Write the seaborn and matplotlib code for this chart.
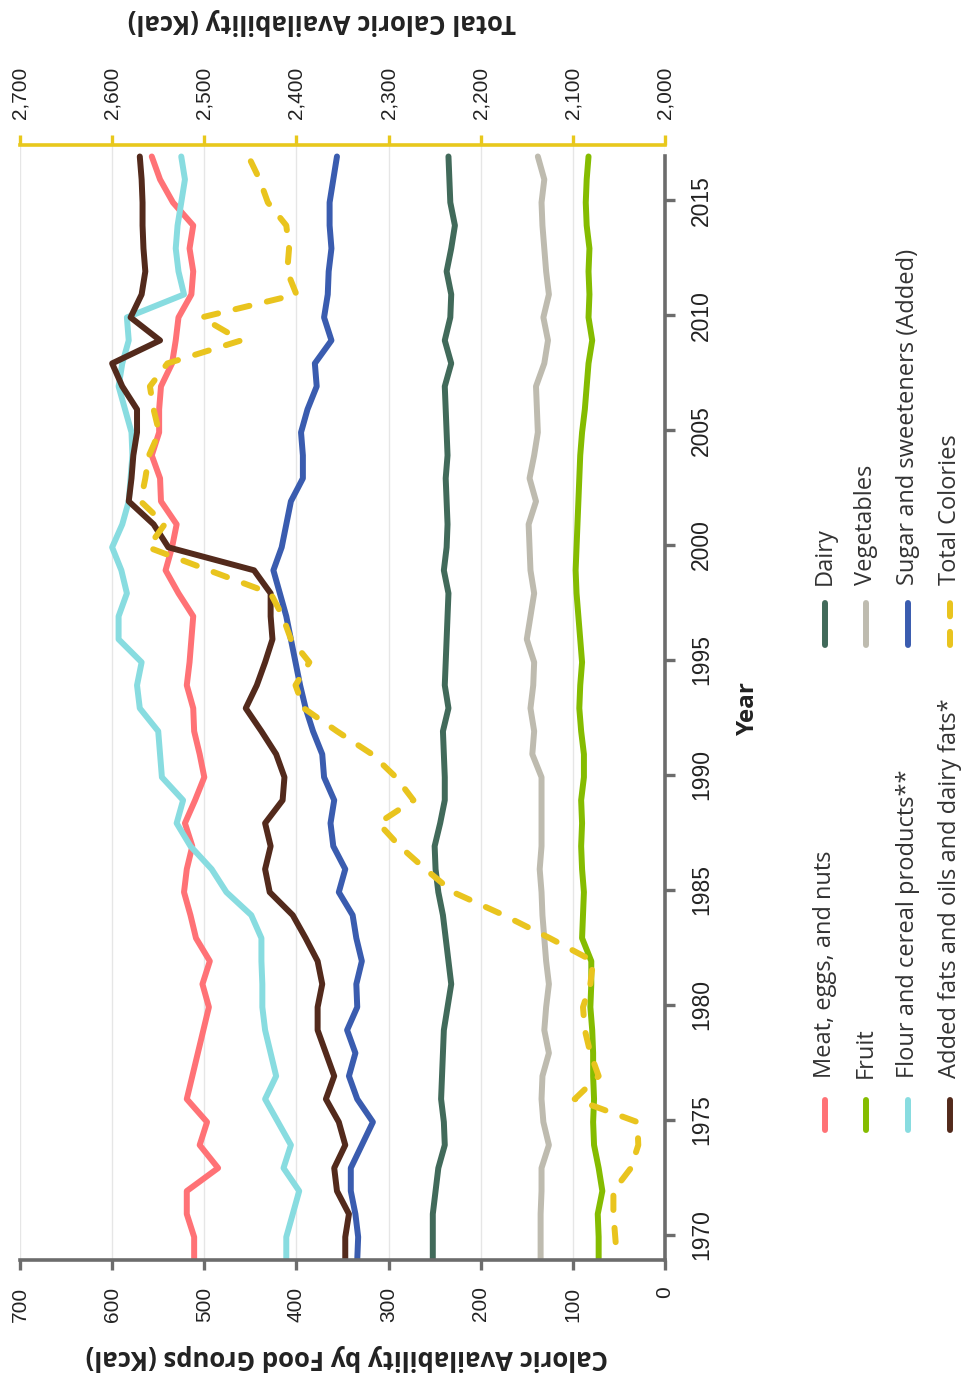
import matplotlib
matplotlib.use("Agg")
import matplotlib.pyplot as plt
from matplotlib.lines import Line2D
import seaborn as sns

years = list(range(1970, 2019))

meat = [511, 511, 519, 519, 485, 505, 497, 519, 513, 507,
        501, 495, 502, 494, 509, 515, 522, 519, 513, 521,
        510, 500, 505, 511, 512, 519, 516, 514, 512, 528,
        542, 535, 530, 547, 548, 557, 549, 549, 547, 535,
        531, 528, 514, 512, 516, 512, 534, 548, 557]
fruit = [72, 72, 73, 68, 72, 77, 78, 77, 78, 78,
         79, 81, 80, 80, 90, 89, 88, 90, 91, 90,
         91, 88, 88, 91, 93, 92, 90, 92, 94, 96,
         97, 96, 95, 94, 93, 92, 90, 87, 85, 83,
         79, 83, 82, 83, 82, 85, 86, 85, 83]
flour = [411, 411, 404, 397, 414, 406, 420, 434, 422, 428,
         434, 437, 437, 438, 438, 449, 476, 492, 515, 530,
         523, 546, 548, 550, 570, 573, 568, 593, 593, 584,
         590, 600, 589, 582, 580, 578, 579, 586, 593, 589,
         582, 584, 522, 528, 531, 529, 525, 521, 525]
fats = [347, 347, 343, 356, 359, 347, 354, 368, 359, 368,
        377, 377, 372, 377, 390, 404, 429, 434, 428, 434,
        415, 413, 422, 438, 455, 443, 434, 426, 428, 428,
        446, 539, 555, 582, 579, 577, 573, 573, 589, 600,
        548, 580, 568, 564, 566, 567, 567, 568, 570]
dairy = [252, 252, 252, 249, 246, 239, 240, 243, 242, 241,
         240, 236, 232, 235, 238, 241, 246, 249, 250, 244,
         239, 239, 240, 241, 235, 239, 238, 237, 236, 235,
         240, 237, 236, 237, 238, 236, 237, 238, 239, 232,
         239, 233, 232, 237, 232, 228, 233, 234, 235]
vegetables = [135, 135, 135, 134, 134, 126, 132, 134, 133, 126,
              131, 129, 126, 129, 131, 133, 134, 136, 134, 134,
              134, 134, 144, 142, 146, 143, 142, 150, 146, 142,
              146, 147, 148, 140, 147, 142, 138, 139, 140, 131,
              127, 132, 126, 129, 131, 133, 134, 131, 138]
sugar = [334, 333, 336, 341, 341, 329, 317, 334, 343, 336,
         345, 334, 335, 329, 335, 339, 354, 347, 360, 363,
         359, 370, 372, 382, 390, 396, 401, 406, 411, 418,
         425, 416, 411, 406, 393, 393, 395, 388, 378, 380,
         362, 370, 366, 365, 362, 364, 364, 360, 356]
total = [2052, 2054, 2056, 2056, 2037, 2029, 2030, 2098, 2072, 2081,
         2087, 2089, 2081, 2078, 2125, 2175, 2230, 2260, 2288, 2311,
         2273, 2292, 2318, 2356, 2392, 2401, 2386, 2406, 2415, 2428,
         2495, 2561, 2543, 2569, 2564, 2560, 2549, 2555, 2559, 2540,
         2460, 2503, 2400, 2410, 2408, 2411, 2431, 2440, 2452]

group_ticks = [0, 100, 200, 300, 400, 500, 600, 700]
total_ticks = [2000, 2100, 2200, 2300, 2400, 2500, 2600, 2700]
year_ticks = [1970, 1975, 1980, 1985, 1990, 1995, 2000, 2005, 2010, 2015]

series = [
    ("Meat, eggs, and nuts", meat, "#ff7276"),
    ("Fruit", fruit, "#85bc00"),
    ("Flour and cereal products**", flour, "#88dce0"),
    ("Added fats and oils and dairy fats*", fats, "#532a1c"),
    ("Dairy", dairy, "#416a5a"),
    ("Vegetables", vegetables, "#bebbaf"),
    ("Sugar and sweeteners (Added)", sugar, "#3a5caf"),
]
total_label = "Total Colories"
total_color = "#e9c41e"

sns.set_style("white")
plt.rcParams["font.family"] = ["Liberation Sans", "DejaVu Sans"]

W, H = 964, 1383
fig = plt.figure(figsize=(W / 100, H / 100), dpi=100)
gray = "#6c6c6c"
lw = 4.3

# the chart is drawn turned a quarter turn: values run right-to-left, years bottom-to-top
ax = fig.add_axes([20 / W, 1 - 1260 / H, 645 / W, 1115 / H])
for name, vals, col in series:
    sns.lineplot(x=vals, y=years, ax=ax, color=col, lw=lw, orient="y", estimator=None, sort=False,
                 solid_capstyle="round", solid_joinstyle="round")
ax.set_xlim(700, 0)
ax.set_ylim(1970, 2018.5)
ax.set_xticks(group_ticks)
# the source places its year labels about one year above the matching data point
ax.set_yticks([y + 1.1 for y in year_ticks], labels=[str(y) for y in year_ticks])
ax.grid(axis="x", color="#e6e6e6", lw=1)
ax.grid(axis="y", visible=False)
ax.set_xlabel("")
ax.set_ylabel("")
for s in ("left", "top"):
    ax.spines[s].set_visible(False)
for s in ("bottom", "right"):
    ax.spines[s].set_color(gray)
    ax.spines[s].set_linewidth(2.6)
ax.spines["right"].set_bounds(1970, 2018)
ax.yaxis.tick_right()
ax.tick_params(axis="x", direction="out", length=7, width=2.4, color=gray, pad=12,
               labelsize=15, labelrotation=90, labelcolor="#222222")
ax.tick_params(axis="y", direction="out", length=7, width=2.4, color=gray, pad=11,
               labelsize=16.5, labelrotation=90, labelcolor="#222222", right=True, left=False)
for t in ax.get_yticklabels():
    t.set_family(["Liberation Sans Narrow", "Liberation Sans", "DejaVu Sans"])
    t.set_va("center")

ax2 = ax.twiny()
sns.lineplot(x=total, y=years, ax=ax2, color=total_color, lw=lw, orient="y", estimator=None, sort=False,
             dash_capstyle="round", solid_joinstyle="round")
ax2.lines[-1].set_linestyle((2.4, (2.4, 3.0)))
ax2.set_xlim(2700, 2000)
ax2.set_ylim(1970, 2018.5)
ax2.set_xticks(total_ticks)
ax2.set_xticklabels([f"{t:,}" for t in total_ticks])
ax2.set_xlabel("")
for s in ("left", "right", "bottom"):
    ax2.spines[s].set_visible(False)
ax2.spines["top"].set_color("#e8c81c")
ax2.spines["top"].set_linewidth(2.6)
ax2.tick_params(axis="x", direction="out", length=7, width=2.4, color="#e8c81c", pad=12,
                labelsize=15, labelrotation=90, labelcolor="#222222")
ax2.grid(False)

title_font = ["Open Sans", "DejaVu Sans"]
fig.text(347 / W, 1 - 1358 / H, "Caloric Availability by Food Groups (Kcal)", rotation=180,
         ha="center", va="center", fontsize=18.5, fontweight="bold", family=title_font, color="#222222")
fig.text(322 / W, 1 - 22 / H, "Total Caloric Availability (Kcal)", rotation=180,
         ha="center", va="center", fontsize=18.5, fontweight="bold", family=title_font, color="#222222")
fig.text(748 / W, 1 - 708 / H, "Year", rotation=90, ha="center", va="center",
         fontsize=17.5, fontweight="bold", family=title_font, color="#222222")

# legend, drawn by hand so its entries can stand upright with the chart
lax = fig.add_axes([0, 0, 1, 1])
lax.set_xlim(0, W)
lax.set_ylim(H, 0)
lax.axis("off")
cols_x = [825, 866, 908, 950]
for i, (name, col, dashed) in enumerate([(n, c, False) for n, v, c in series] + [(total_label, total_color, True)]):
    x = cols_x[i % 4]
    y0, y1, yt = (1130, 1100, 1078) if i < 4 else (645, 603, 585)
    ln = Line2D([x, x], [y0, y1], color=col, lw=lw, solid_capstyle="round", dash_capstyle="round")
    if dashed:
        ln.set_dashes([2.2, 2.6])
    lax.add_line(ln)
    lax.text(x, yt, name, rotation=90, ha="center", va="bottom", fontsize=17,
             family=title_font, color="#333333")

fig.savefig("out.png", dpi=100)
